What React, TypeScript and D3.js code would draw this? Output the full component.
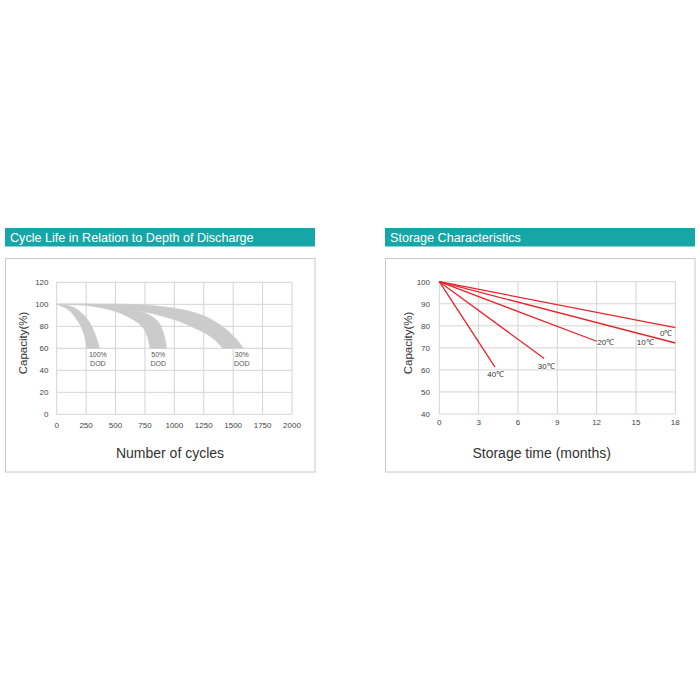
import React from "react";
import * as d3 from "d3";

// ---------- Data: Cycle life ----------
const cycleXTicks = [0, 250, 500, 750, 1000, 1250, 1500, 1750, 2000];
const cycleYTicks = [0, 20, 40, 60, 80, 100, 120];
const dodNames = ["100%", "50%", "30%"];
const dod100Outer: [number, number][] = [[0, 100], [80, 99.3], [156, 96.5], [241, 89], [298, 80], [335, 70], [365, 60]];
const dod100Inner: [number, number][] = [[0, 100], [99, 95], [184, 84], [225, 75], [245, 67], [255, 60]];
const dod50Outer: [number, number][] = [[0, 100], [250, 100.2], [500, 98.5], [751, 92], [864, 84], [912, 72], [935, 60]];
const dod50Inner: [number, number][] = [[0, 100], [250, 99], [501, 93.5], [680, 84], [745, 77], [775, 69], [793, 60]];
const dod30Outer: [number, number][] = [[0, 100], [300, 100.3], [600, 100], [800, 99], [1077, 95], [1250, 89.5], [1332, 85], [1420, 79], [1474, 74], [1530, 68], [1587, 60]];
const dod30Inner: [number, number][] = [[0, 100], [300, 99.7], [500, 98], [793, 92], [1000, 86], [1077, 83], [1200, 77], [1275, 73], [1350, 67], [1410, 60]];
const dodLabelX = [350, 864, 1573];

// ---------- Data: Storage ----------
const storeXTicks = [0, 3, 6, 9, 12, 15, 18];
const storeYTicks = [40, 50, 60, 70, 80, 90, 100];
const tempNames = ["0℃", "10℃", "20℃", "30℃", "40℃"];
const tempEndMonth = [18, 18, 12, 8, 4.25];
const tempEndCap = [79.2, 72.2, 73, 65.2, 61.3];
const tempLabelX = [17.3, 15.7, 12.7, 8.15, 4.3];
const tempLabelY = [76.8, 72.6, 72.6, 61.8, 58.1];

const FONT = "'Liberation Sans', Arial, sans-serif";
const TEAL = "#17a6a7";
const GRID = "#d4d4d4";
const RED = "#e8242b";

function Panel({ x, title }: { x: number; title: string }) {
  return (
    <g>
      <rect x={x} y={228} width={310} height={18.5} fill={TEAL} />
      <text x={x + 5} y={237.5} dy="0.36em" fill="#fff" fontSize={12.6} fontFamily={FONT}>{title}</text>
      <rect x={x + 0.5} y={258.5} width={309.5} height={213.5} fill="#fff" stroke="#c8c8c8" strokeWidth={1} />
    </g>
  );
}

function CycleChart() {
  const xs = d3.scaleLinear().domain([0, 2000]).range([56.7, 292]);
  const ys = d3.scaleLinear().domain([0, 120]).range([414.3, 282.3]);
  const curve = (pts: [number, number][]) =>
    d3.line<[number, number]>().x((d) => xs(d[0])).y((d) => ys(d[1])).curve(d3.curveCatmullRom.alpha(0.5))(pts) || "";
  const bands: [[number, number][], [number, number][]][] = [
    [dod100Outer, dod100Inner],
    [dod50Outer, dod50Inner],
    [dod30Outer, dod30Inner],
  ];
  return (
    <g fontFamily={FONT}>
      {cycleXTicks.map((t) => (
        <line key={"gx" + t} x1={xs(t)} x2={xs(t)} y1={ys(0)} y2={ys(120)} stroke={GRID} strokeWidth={1} />
      ))}
      {cycleYTicks.map((t) => (
        <line key={"gy" + t} x1={xs(0)} x2={xs(2000)} y1={ys(t)} y2={ys(t)} stroke={GRID} strokeWidth={1} />
      ))}
      {bands.map(([outer, inner], i) => {
        const path = curve(outer) + "L" + curve(inner.slice().reverse()).slice(1) + "Z";
        return <path key={"b" + i} d={path} fill="#cbcbcb" stroke="#cbcbcb" strokeWidth={0.6} />;
      })}
      {dodNames.map((n, i) => (
        <g key={"l" + i}>
          <text x={xs(dodLabelX[i])} y={ys(54)} dy="0.35em" textAnchor="middle" fontSize={7} fill="#555">{n}</text>
          <text x={xs(dodLabelX[i])} y={ys(45.8)} dy="0.35em" textAnchor="middle" fontSize={7} fill="#555">DOD</text>
        </g>
      ))}
      {cycleXTicks.map((t) => (
        <text key={"tx" + t} x={xs(t)} y={425} dy="0.35em" textAnchor="middle" fontSize={8} fill="#444">{t}</text>
      ))}
      {cycleYTicks.map((t) => (
        <text key={"ty" + t} x={48.5} y={ys(t)} dy="0.35em" textAnchor="end" fontSize={8} fill="#444">{t}</text>
      ))}
      <text x={170} y={453} dy="0.35em" textAnchor="middle" fontSize={14} fill="#333">Number of cycles</text>
      <text transform="translate(23,343) rotate(-90)" dy="0.35em" textAnchor="middle" fontSize={11.5} fill="#333">Capacity(%)</text>
    </g>
  );
}

function StorageChart() {
  const xs = d3.scaleLinear().domain([0, 18]).range([439.3, 675.3]);
  const ys = d3.scaleLinear().domain([40, 100]).range([414, 281.7]);
  const line = d3.line<[number, number]>().x((d) => xs(d[0])).y((d) => ys(d[1]));
  return (
    <g fontFamily={FONT}>
      {storeXTicks.map((t) => (
        <line key={"gx" + t} x1={xs(t)} x2={xs(t)} y1={ys(40)} y2={ys(100)} stroke={GRID} strokeWidth={1} />
      ))}
      {storeYTicks.map((t) => (
        <line key={"gy" + t} x1={xs(0)} x2={xs(18)} y1={ys(t)} y2={ys(t)} stroke={GRID} strokeWidth={1} />
      ))}
      {tempNames.map((n, i) => (
        <path key={"ln" + i} d={line([[0, 100], [tempEndMonth[i], tempEndCap[i]]]) || ""} stroke={RED} strokeWidth={1.3} fill="none" />
      ))}
      {tempNames.map((n, i) => (
        <text key={"lb" + i} x={xs(tempLabelX[i])} y={ys(tempLabelY[i])} dy="0.35em" textAnchor="middle" fontSize={8} fill="#333">{n}</text>
      ))}
      {storeXTicks.map((t) => (
        <text key={"tx" + t} x={xs(t)} y={422} dy="0.35em" textAnchor="middle" fontSize={8} fill="#444">{t}</text>
      ))}
      {storeYTicks.map((t) => (
        <text key={"ty" + t} x={430} y={ys(t)} dy="0.35em" textAnchor="end" fontSize={8} fill="#444">{t}</text>
      ))}
      <text x={541.7} y={453} dy="0.35em" textAnchor="middle" fontSize={14} fill="#333">Storage time (months)</text>
      <text transform="translate(408,343) rotate(-90)" dy="0.35em" textAnchor="middle" fontSize={11.5} fill="#333">Capacity(%)</text>
    </g>
  );
}

export default function App() {
  return (
    <svg width={700} height={700} style={{ position: "absolute", left: 0, top: 0, background: "#fff" }}>
      <rect x={0} y={0} width={700} height={700} fill="#fff" />
      <Panel x={5} title="Cycle Life in Relation to Depth of Discharge" />
      <Panel x={385} title="Storage Characteristics" />
      <CycleChart />
      <StorageChart />
    </svg>
  );
}
